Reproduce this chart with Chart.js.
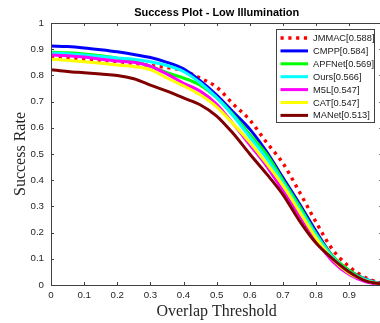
<!DOCTYPE html>
<html>
<head>
<meta charset="utf-8">
<title>Success Plot - Low Illumination</title>
<script src="https://cdn.jsdelivr.net/npm/chart.js"></script>
<style>
	html, body { margin: 0; padding: 0; background: #fff; overflow: hidden; }
	#wrap { width: 390px; height: 323px; overflow: hidden; }
</style>
</head>
<body>
<div id="wrap"><canvas id="myChart" width="390" height="323"></canvas></div>
<script>
// overlap thresholds (x axis)
const thresholds = [0, 0.05, 0.1, 0.15, 0.2, 0.25, 0.3, 0.35, 0.4, 0.45, 0.5,
	0.55, 0.6, 0.65, 0.7, 0.75, 0.8, 0.85, 0.9, 0.95, 1];

// tracker names + AUC scores shown in legend
const methodNames = ['JMMAC', 'CMPP', 'APFNet', 'Ours', 'M5L', 'CAT', 'MANet'];
const aucScores = ['0.588', '0.584', '0.569', '0.566', '0.547', '0.547', '0.513'];

// success rate of each tracker
const jmmac  = [0.874, 0.869, 0.862, 0.858, 0.853, 0.846, 0.838, 0.830, 0.818, 0.790, 0.755, 0.690, 0.630, 0.545, 0.465, 0.355, 0.240, 0.135, 0.070, 0.028, 0.005];
const cmpp   = [0.912, 0.910, 0.905, 0.898, 0.890, 0.880, 0.868, 0.850, 0.825, 0.780, 0.725, 0.660, 0.595, 0.510, 0.410, 0.310, 0.205, 0.110, 0.055, 0.022, 0.003];
const apfnet = [0.888, 0.886, 0.882, 0.875, 0.866, 0.853, 0.835, 0.810, 0.790, 0.763, 0.715, 0.650, 0.575, 0.500, 0.400, 0.300, 0.195, 0.110, 0.055, 0.020, 0.003];
const ours   = [0.885, 0.883, 0.878, 0.872, 0.866, 0.862, 0.852, 0.838, 0.815, 0.772, 0.715, 0.645, 0.565, 0.485, 0.390, 0.290, 0.190, 0.105, 0.050, 0.020, 0.003];
const m5l    = [0.878, 0.875, 0.870, 0.862, 0.855, 0.850, 0.835, 0.805, 0.770, 0.740, 0.690, 0.615, 0.535, 0.455, 0.360, 0.265, 0.170, 0.090, 0.040, 0.012, 0.000];
const cat    = [0.862, 0.858, 0.852, 0.846, 0.840, 0.834, 0.822, 0.790, 0.760, 0.726, 0.680, 0.615, 0.545, 0.465, 0.380, 0.280, 0.180, 0.098, 0.045, 0.017, 0.002];
const manet  = [0.822, 0.815, 0.810, 0.805, 0.800, 0.787, 0.763, 0.740, 0.714, 0.688, 0.645, 0.578, 0.500, 0.425, 0.345, 0.245, 0.160, 0.100, 0.050, 0.016, 0.003];

const seriesValues = [jmmac, cmpp, apfnet, ours, m5l, cat, manet];

// matlab style colours
const lineColors = ['#ff0000', '#0000ff', '#00ff00', '#00ffff', '#ff00ff', '#ffff00', '#800000'];

const axisColor = '#404040';

let datasets = seriesValues.map((vals, i) => {
	return {
		label: methodNames[i] + '[' + aucScores[i] + ']',
		data: vals.map((v, j) => ({x: thresholds[j], y: v})),
		borderColor: lineColors[i],
		backgroundColor: lineColors[i],
		borderWidth: i === 0 ? 3.4 : 3,
		borderDash: i === 0 ? [3.2, 4.6] : [],
		borderCapStyle: 'butt',
		cubicInterpolationMode: 'monotone',
		pointRadius: 0,
		fill: false,
		// first method at the bottom, MANet on top
		order: seriesValues.length - i
	}
});

// tick text like matlab: 0, 0.1 ... 1
const tickText = value => String(Number(value.toFixed(1)));

// axes box + inward ticks like matlab
const boxPlugin = {
	id: 'boxPlugin',
	afterDatasetsDraw(chart) {
		const ctx = chart.ctx;
		const a = chart.chartArea;
		const xs = chart.scales.x, ys = chart.scales.y;
		ctx.save();
		ctx.strokeStyle = axisColor;
		ctx.lineWidth = 1;
		ctx.beginPath();
		ctx.moveTo(a.left + 0.5, a.top + 0.5);
		ctx.lineTo(a.right + 0.5, a.top + 0.5);
		ctx.lineTo(a.right + 0.5, a.bottom + 0.5);
		ctx.lineTo(a.left + 0.5, a.bottom + 0.5);
		ctx.closePath();
		xs.ticks.forEach(t => {
			let px = Math.round(xs.getPixelForValue(t.value)) + 0.5;
			ctx.moveTo(px, a.bottom);
			ctx.lineTo(px, a.bottom - 3);
			ctx.moveTo(px, a.top);
			ctx.lineTo(px, a.top + 3);
		});
		ys.ticks.forEach(t => {
			let py = Math.round(ys.getPixelForValue(t.value)) + 0.5;
			ctx.moveTo(a.left, py);
			ctx.lineTo(a.left + 3, py);
			ctx.moveTo(a.right, py);
			ctx.lineTo(a.right - 3, py);
		});
		ctx.stroke();
		ctx.restore();
	}
};

// legend box in the upper right corner
const legendPlugin = {
	id: 'legendPlugin',
	afterDraw(chart) {
		const ctx = chart.ctx;
		const left = 276.5, top = 29.5, w = 98, h = 93;
		ctx.save();
		ctx.fillStyle = '#fff';
		ctx.fillRect(left, top, w, h);
		ctx.strokeStyle = axisColor;
		ctx.lineWidth = 1;
		ctx.strokeRect(left, top, w, h);
		ctx.font = '9.3px Arial, "Liberation Sans", sans-serif';
		ctx.textBaseline = 'middle';
		chart.data.datasets.forEach((ds, i) => {
			let y = 38 + i * 12.9;
			ctx.beginPath();
			ctx.strokeStyle = ds.borderColor;
			ctx.lineWidth = ds.borderWidth;
			ctx.setLineDash(ds.borderDash);
			ctx.moveTo(280.5, y);
			ctx.lineTo(308, y);
			ctx.stroke();
			ctx.setLineDash([]);
			ctx.fillStyle = '#1a1a1a';
			ctx.fillText(ds.label, 313, y + 0.5);
		});
		ctx.restore();
	}
};

const myChart = document.getElementById('myChart');

let lineChart = new Chart(myChart, {
	type: 'line',
	data: {datasets: datasets},
	options: {
		responsive: false,
		animation: false,
		layout: {padding: {left: 0, right: 4, top: 0, bottom: 0}},
		plugins: {
			legend: {display: false},
			tooltip: {enabled: false},
			title: {
				display: true,
				fullSize: false,
				text: 'Success Plot - Low Illumination',
				color: '#000',
				font: {family: 'Arial, "Liberation Sans", sans-serif', size: 11, weight: 'bold', lineHeight: 1.2},
				padding: {top: 6, bottom: 3.8}
			}
		},
		scales: {
			x: {
				type: 'linear',
				min: 0,
				max: 1,
				afterFit: s => { s.height = 38; },
				ticks: {
					stepSize: 0.1,
					padding: 5,
					color: '#262626',
					font: {family: 'Arial, "Liberation Sans", sans-serif', size: 9.7},
					maxRotation: 0,
					callback: tickText
				},
				grid: {display: false, drawTicks: false},
				border: {display: false},
				title: {
					display: true,
					text: 'Overlap Threshold',
					color: '#262626',
					font: {family: '"Liberation Serif", "Times New Roman", serif', size: 16, lineHeight: 1.2},
					padding: {top: 0, bottom: 2}
				}
			},
			y: {
				min: 0,
				max: 1,
				afterFit: s => { s.width = 51; },
				ticks: {
					stepSize: 0.1,
					padding: 7,
					color: '#262626',
					font: {family: 'Arial, "Liberation Sans", sans-serif', size: 9.7},
					callback: tickText
				},
				grid: {display: false, drawTicks: false},
				border: {display: false},
				title: {
					display: true,
					text: 'Success Rate',
					color: '#262626',
					font: {family: '"Liberation Serif", "Times New Roman", serif', size: 16, lineHeight: 1.2},
					padding: {top: 11.4, bottom: 0}
				}
			}
		}
	},
	plugins: [boxPlugin, legendPlugin]
});
</script>
</body>
</html>
